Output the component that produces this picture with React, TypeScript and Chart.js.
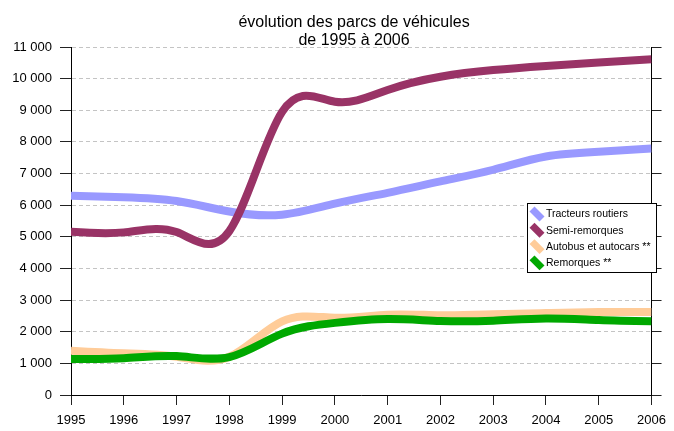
import { useEffect, useRef } from "react";
import { Chart, registerables } from "chart.js";

Chart.register(...registerables);

const years = ["1995", "1996", "1997", "1998", "1999", "2000", "2001", "2002", "2003", "2004", "2005", "2006"];
const tracteurs = [6300, 6250, 6130, 5800, 5700, 6050, 6390, 6750, 7120, 7540, 7690, 7790];
const semiRemorques = [5160, 5140, 5150, 5180, 8950, 9270, 9640, 10060, 10270, 10400, 10510, 10610];
const autobus = [1400, 1320, 1210, 1210, 2330, 2440, 2540, 2520, 2550, 2590, 2620, 2620];
const remorques = [1140, 1160, 1230, 1200, 1940, 2280, 2400, 2340, 2350, 2420, 2370, 2330];
const seriesNames = ["Tracteurs routiers", "Semi-remorques", "Autobus et autocars **", "Remorques **"];
const seriesColors = ["#9999ff", "#993366", "#ffcc99", "#00a800"];
const titleLines = ["évolution des parcs de véhicules", "de 1995 à 2006"];
const yMin = 0;
const yMax = 11000;
const yStep = 1000;

const FONT = "'Liberation Sans', Arial, sans-serif";

function fmt(v: number): string {
  if (v < 1000) return String(v);
  const th = Math.floor(v / 1000);
  const rest = v % 1000;
  return `${th} ${String(rest).padStart(3, "0")}`;
}

// natural cubic spline control points, computed from the library's pixel positions
const splinePlugin = {
  id: "naturalSpline",
  beforeDatasetsDraw(chart: any) {
    chart.getSortedVisibleDatasetMetas().forEach((meta: any) => {
      const pts = meta.data as any[];
      const n = pts.length;
      if (n < 3) return;
      const xs = pts.map((p) => p.x);
      const ys = pts.map((p) => p.y);
      const h: number[] = [];
      for (let i = 0; i < n - 1; i++) h.push(xs[i + 1] - xs[i]);
      const M = new Array(n).fill(0);
      const m = n - 2;
      const a: number[] = [], b: number[] = [], c: number[] = [], d: number[] = [];
      for (let i = 1; i <= m; i++) {
        a.push(h[i - 1]);
        b.push(2 * (h[i - 1] + h[i]));
        c.push(h[i]);
        d.push(6 * ((ys[i + 1] - ys[i]) / h[i] - (ys[i] - ys[i - 1]) / h[i - 1]));
      }
      for (let i = 1; i < m; i++) {
        const w = a[i] / b[i - 1];
        b[i] -= w * c[i - 1];
        d[i] -= w * d[i - 1];
      }
      const sol = new Array(m).fill(0);
      sol[m - 1] = d[m - 1] / b[m - 1];
      for (let i = m - 2; i >= 0; i--) sol[i] = (d[i] - c[i] * sol[i + 1]) / b[i];
      for (let i = 0; i < m; i++) M[i + 1] = sol[i];
      for (let i = 0; i < n - 1; i++) {
        const s = (ys[i + 1] - ys[i]) / h[i];
        const d0 = s - (h[i] * (2 * M[i] + M[i + 1])) / 6;
        const d1 = s + (h[i] * (M[i] + 2 * M[i + 1])) / 6;
        pts[i].cp2x = xs[i] + h[i] / 3;
        pts[i].cp2y = ys[i] + (d0 * h[i]) / 3;
        pts[i + 1].cp1x = xs[i + 1] - h[i] / 3;
        pts[i + 1].cp1y = ys[i + 1] - (d1 * h[i]) / 3;
      }
      pts[0].cp1x = xs[0];
      pts[0].cp1y = ys[0];
      pts[n - 1].cp2x = xs[n - 1];
      pts[n - 1].cp2y = ys[n - 1];
      meta.dataset._pointsUpdated = true;
    });
  },
};

const decorPlugin = {
  id: "decor",
  afterDraw(chart: any) {
    const ctx = chart.ctx as CanvasRenderingContext2D;
    ctx.save();
    // title
    ctx.fillStyle = "#000";
    ctx.font = `16px ${FONT}`;
    ctx.textAlign = "center";
    ctx.textBaseline = "alphabetic";
    ctx.fillText(titleLines[0], 354, 27);
    ctx.fillText(titleLines[1], 354, 45);

    // legend
    const bx = 527.5, by = 203.5, bw = 129, bh = 69;
    ctx.fillStyle = "#fff";
    ctx.fillRect(bx, by, bw, bh);
    ctx.strokeStyle = "#000";
    ctx.lineWidth = 1;
    ctx.strokeRect(bx, by, bw, bh);
    ctx.font = `10.5px ${FONT}`;
    ctx.textAlign = "left";
    ctx.textBaseline = "middle";
    seriesNames.forEach((name, i) => {
      const cy = 214 + i * 16.3;
      ctx.strokeStyle = seriesColors[i];
      ctx.lineWidth = 7;
      ctx.lineCap = "butt";
      ctx.beginPath();
      ctx.moveTo(532, cy - 5);
      ctx.lineTo(542, cy + 5);
      ctx.stroke();
      ctx.fillStyle = "#000";
      ctx.fillText(name, 546, cy + 0.5);
    });
    ctx.restore();
  },
};

export default function App() {
  const ref = useRef<HTMLCanvasElement | null>(null);
  useEffect(() => {
    document.body.style.margin = "0";
    if (!ref.current) return;
    const dataArrays = [tracteurs, semiRemorques, autobus, remorques];
    const orders = [4, 3, 2, 1];
    const chart = new Chart(ref.current, {
      type: "line",
      data: {
        labels: years,
        datasets: dataArrays.map((arr, i) => ({
          label: seriesNames[i],
          data: arr,
          borderColor: seriesColors[i],
          backgroundColor: seriesColors[i],
          borderWidth: 8,
          pointRadius: 0,
          pointHoverRadius: 0,
          tension: 0.4,
          borderJoinStyle: "round" as const,
          borderCapStyle: "butt" as const,
          fill: false,
          order: orders[i],
          yAxisID: "y",
          clip: 0,
        })),
      },
      options: {
        responsive: false,
        animation: false,
        events: [],
        layout: { padding: { top: 47, left: 0, right: 0, bottom: 0 } },
        plugins: {
          legend: { display: false },
          title: { display: false },
          tooltip: { enabled: false },
        },
        scales: {
          x: {
            type: "category",
            offset: false,
            grid: {
              drawOnChartArea: false,
              drawTicks: true,
              tickLength: 10,
              tickColor: "#222",
              tickWidth: 1,
              tickBorderDash: [],
            },
            border: { display: true, color: "#000", width: 1 },
            ticks: {
              color: "#000",
              font: { family: FONT, size: 13 },
              padding: 8,
              maxRotation: 0,
              autoSkip: false,
            },
            afterFit: (s: any) => {
              s.height = 36;
            },
          },
          y: {
            position: "left",
            min: yMin,
            max: yMax,
            grid: {
              color: "#c4c4c4",
              lineWidth: 1,
              drawTicks: true,
              tickLength: 11,
              tickColor: "#222",
              tickWidth: 1,
              tickBorderDash: [],
            },
            border: { display: true, color: "#000", width: 1, dash: [4, 3] },
            ticks: {
              stepSize: yStep,
              color: "#000",
              font: { family: FONT, size: 13 },
              padding: 8,
              callback: (v: any) => fmt(Number(v)),
            },
            afterFit: (s: any) => {
              s.width = 71;
            },
          },
          y2: {
            position: "right",
            min: yMin,
            max: yMax,
            grid: {
              drawOnChartArea: false,
              drawTicks: true,
              tickLength: 10,
              tickColor: "#222",
              tickWidth: 1,
              tickBorderDash: [],
            },
            border: { display: true, color: "#000", width: 1 },
            ticks: { stepSize: yStep, display: false },
            afterFit: (s: any) => {
              s.width = 14;
            },
          },
        },
      },
      plugins: [splinePlugin, decorPlugin],
    });
    return () => chart.destroy();
  }, []);
  return (
    <div style={{ position: "absolute", left: 0, top: 0, width: 674, height: 431, background: "#fff" }}>
      <canvas ref={ref} width={674} height={431} style={{ width: 674, height: 431, display: "block" }} />
    </div>
  );
}
